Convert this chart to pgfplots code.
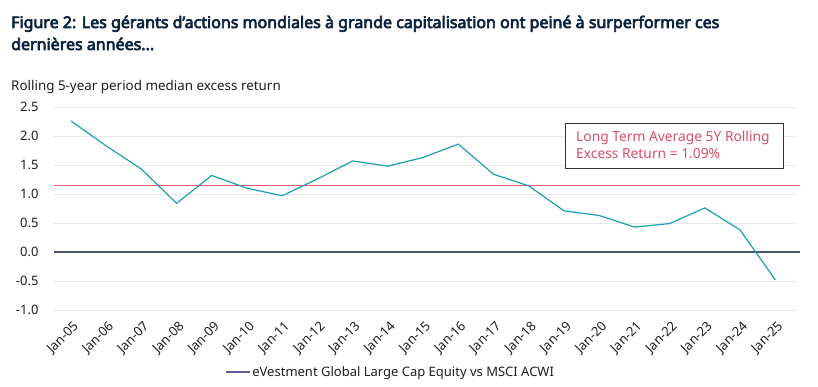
\documentclass[border=0pt]{standalone}
\usepackage{pgfplots}
\pgfplotsset{compat=1.18}
\usepackage{fontspec}
\setmainfont{Noto Sans}
\newfontfamily\titlefont{Noto Sans}[FakeBold=4]
\definecolor{titlecol}{RGB}{12,35,64}
\definecolor{seriesteal}{RGB}{28,160,176}
\definecolor{avgline}{RGB}{232,86,108}
\definecolor{annot}{RGB}{214,80,105}
\definecolor{zeroline}{RGB}{80,88,104}
\definecolor{gridgrey}{RGB}{232,232,232}
\definecolor{legpurple}{RGB}{104,92,150}
\definecolor{txt}{RGB}{30,30,30}
\begin{document}
\begin{tikzpicture}[x=1pt,y=1pt]
\path[use as bounding box] (0,0) rectangle (818,386);
% title
\node[anchor=base west, inner sep=0, text=titlecol, font=\titlefont\fontsize{16}{20}\selectfont] at (11,386-28) {Figure 2: Les gérants d’actions mondiales à grande capitalisation ont peiné à surperformer ces};
\node[anchor=base west, inner sep=0, text=titlecol, font=\titlefont\fontsize{16}{20}\selectfont] at (11,386-50) {dernières années...};
\node[anchor=base west, inner sep=0, text=txt, font=\fontsize{13.4}{15}\selectfont] at (11,386-91) {Rolling 5-year period median excess return};
\begin{axis}[
  at={(54pt,76pt)}, anchor=south west,
  scale only axis, width=741pt, height=203pt,
  xmin=-0.48, xmax=20.56, ymin=-1, ymax=2.5,
  ytick={-1,-0.5,0,0.5,1,1.5,2,2.5},
  xtick={0,...,20},
  xticklabels={Jan-05,Jan-06,Jan-07,Jan-08,Jan-09,Jan-10,Jan-11,Jan-12,Jan-13,Jan-14,Jan-15,Jan-16,Jan-17,Jan-18,Jan-19,Jan-20,Jan-21,Jan-22,Jan-23,Jan-24,Jan-25},
  x tick label style={rotate=45, anchor=north east, font=\fontsize{13}{15}\selectfont, text=txt, inner sep=1pt, yshift=-7pt, xshift=-5pt},
  y tick label style={font=\fontsize{13}{15}\selectfont, text=txt, xshift=-12pt},
  yticklabel style={/pgf/number format/.cd, fixed, fixed zerofill, precision=1, assume math mode=true},
  ymajorgrids, grid style={gridgrey, line width=0.8pt},
  axis line style={draw=none},
  major tick length=0pt,
  clip=false,
  legend style={at={(0.454,-0.305)}, anchor=center, draw=none, fill=none, font=\fontsize{13}{15}\selectfont, text=txt, legend cell align=left, inner sep=0pt},
  legend image code/.code={\draw[#1] (0pt,0pt) -- (24pt,0pt);},
]
\addplot[draw=zeroline, line width=1.2pt, forget plot] coordinates {(-0.48,0) (20.7,0)};
\addplot[draw=avgline, line width=1.4pt, forget plot] coordinates {(-0.48,1.15) (20.7,1.15)};
\addplot[draw=seriesteal, line width=1.2pt, forget plot] coordinates {
(0,2.26) (1,1.83) (2,1.43) (3,0.84) (4,1.32) (5,1.10) (6,0.97) (7,1.26) (8,1.57) (9,1.48) (10,1.63) (11,1.86) (12,1.34) (13,1.14) (14,0.71) (15,0.63) (16,0.43) (17,0.49) (18,0.76) (19,0.38) (20,-0.48)};
\addlegendimage{draw=legpurple, line width=1.5pt}
\addlegendentry{eVestment Global Large Cap Equity vs MSCI ACWI}
\end{axis}
% annotation box
\draw[black!80, line width=0.8pt, fill=white] (565.5,386-123) rectangle (783,386-168);
\node[anchor=base west, inner sep=0, text=annot, font=\fontsize{13.8}{15}\selectfont] at (576,386-142) {Long Term Average 5Y Rolling};
\node[anchor=base west, inner sep=0, text=annot, font=\fontsize{13.8}{15}\selectfont] at (576,386-158) {Excess Return = 1.09\%};
\end{tikzpicture}
\end{document}
